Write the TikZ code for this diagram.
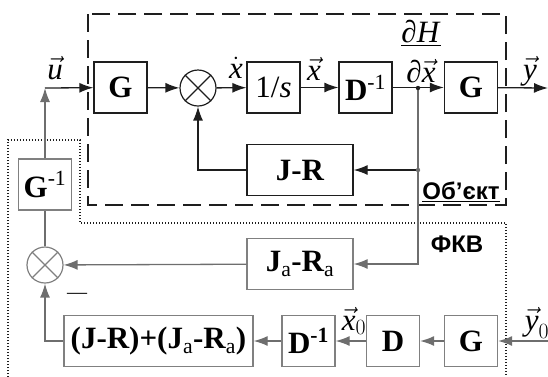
\RequirePackage{fix-cm}
\documentclass[tikz,border=0pt]{standalone}
\usepackage{fontspec}
\setmainfont{Liberation Serif}
\setsansfont{Liberation Sans}
\usetikzlibrary{arrows.meta}
\definecolor{Ink}{HTML}{1E1E1E}
\definecolor{Slate}{HTML}{6E6E6E}
\definecolor{Frame}{HTML}{808080}

\begin{document}
\begin{tikzpicture}[x=1pt,y=-1pt,>={Latex[length=14pt,width=10pt]}, font=\fontsize{31}{32}\selectfont]
  \tikzset{blk/.style={draw=Ink,line width=1.3pt,minimum width=53pt,minimum height=51pt,inner sep=0pt,font=\bfseries\fontsize{31}{32}\selectfont},
           gblk/.style={blk,draw=Frame},
           sumc/.style={circle,draw=Ink,line width=1.2pt,minimum size=36pt,inner sep=0pt},
           wire/.style={draw=Ink,line width=1.3pt},
           gwire/.style={draw=Slate,line width=1.3pt},
           lbl/.style={inner sep=0pt},
           tag/.style={inner sep=0pt,font=\sffamily\bfseries\fontsize{24}{25}\selectfont}}
  \useasboundingbox (0,0) rectangle (548,376);
  \draw[Ink,line width=1.3pt,dash pattern=on 18pt off 8pt] (88,14) rectangle (506,205);
  \draw[Ink,line width=1.3pt,dash pattern=on 1.4pt off 1.6pt] (8,380) -- (8,140) -- (80,140) -- (80,223) -- (506,223) -- (506,380);
  \node[blk] (g1) at (120.5,87.5) {G};
  \node[sumc] (s1) at (198,88) {};
  \node[blk] (int) at (273.5,87.5) {\mdseries 1/\textit{s}};
  \node[blk] (dinv) at (365.5,87.5) {D\textsuperscript{\mdseries -1}};
  \node[blk] (g2) at (471,87.5) {G};
  \node[blk,minimum width=106pt] (jr) at (300,170) {J-R};
  \node[gblk,minimum width=106pt] (jara) at (300,264) {J\textsubscript{\mdseries a}-R\textsubscript{\mdseries a}};
  \node[sumc,draw=Frame] (s2) at (45,265) {};
  \node[gblk] (ginv) at (45,184.5) {G\textsuperscript{\mdseries -1}};
  \node[gblk,minimum width=189pt] (sum) at (158.5,341) {(J-R)+(J\textsubscript{\mdseries a}-R\textsubscript{\mdseries a})};
  \node[gblk] (dinv2) at (308.5,341) {D\textsuperscript{-1}};
  \node[gblk] (d) at (393,341) {D};
  \node[gblk] (g3) at (471,341) {G};
  \foreach \s/\c in {s1/Ink,s2/Frame}{
    \draw[\c,line width=1.2pt] (\s.north west) -- (\s.south east) (\s.north east) -- (\s.south west);}
  \coordinate (u) at (45,88);
  \coordinate (yout) at (548,88);
  \coordinate (yin) at (548,341);
  \coordinate (tap) at (418,88);
  \coordinate (tap2) at (418,170);
  \coordinate (tap3) at (418,264);
  \foreach \a/\b in {g1/s1,s1/int,int/dinv,dinv/g2,g2/yout,u/g1,tap2/jr}{\draw[wire,->] (\a) -- (\b);}
  \foreach \a/\b in {ginv/u,yin/g3,g3/d,d/dinv2,dinv2/sum,jara/s2}{\draw[gwire,->] (\a) -- (\b);}
  \draw[wire,->] (jr.west) -| (s1.south);
  \draw[gwire] (tap) -- (tap2);
  \draw[gwire,->] (tap2) -- (tap3) -- (jara.east);
  \draw[gwire] (s2) -- (ginv);
  \draw[gwire,->] (sum.west) -| (s2.south);
  \fill[Ink] (tap) circle (2.2pt);
  \fill[Slate] (tap2) circle (2.2pt);
  \node[lbl] (lu) at (55,68) {$\vec{\textit{u}}$};
  \node[lbl] (lxd) at (236,68) {$\dot{\textit{x}}$};
  \node[lbl] (lx) at (314,69) {$\vec{\textit{x}}$};
  \node[lbl] (ldh) at (421,33) {\underline{\textit{∂H}}};
  \node[lbl] (ldx) at (421,71) {\textit{∂}$\vec{\textit{x}}$};
  \node[lbl] (ly) at (530,71) {$\vec{\textit{y}}$};
  \node[lbl] (lx0) at (354,321) {$\vec{\textit{x}}_0$};
  \node[lbl] (ly0) at (537,323) {$\vec{\textit{y}}_0$};
  \node[lbl,font=\fontsize{20}{20}\selectfont] (minus) at (77,296) {—};
  \node[tag] (obj) at (461,192) {\underline{Об’єкт}};
  \node[tag] (fkv) at (457,244) {ФКВ};
\end{tikzpicture}
\end{document}
